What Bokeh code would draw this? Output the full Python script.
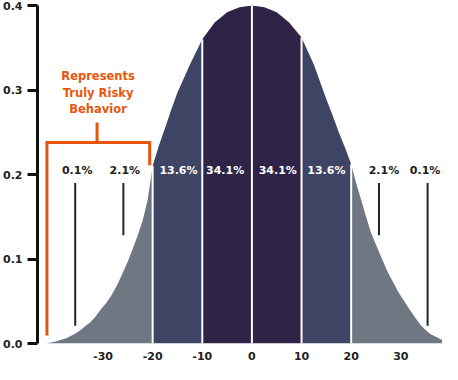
from bokeh.plotting import figure
from bokeh.models import Range1d, FixedTicker, PrintfTickFormatter
from bokeh.embed import file_html
from bokeh.resources import INLINE
from bokeh.core.properties import value

# ---- data ----
curve_x = [-41.5, -40.5, -39.5, -38.6, -37.5, -36.5, -35.5, -34.5, -33.5, -32.6, -31.5, -30.5, -29.2,
           -28.2, -27, -26, -25, -24, -23, -22, -21, -20, -18.75, -17.5, -16.25, -15, -12.5, -10,
           -7.5, -5, -2.5, 0, 2.5, 5, 7.5, 10, 12.5, 15, 16.25, 17.5, 18.75, 20, 21, 22, 23, 24,
           25, 26, 27.4, 28.4, 29.5, 30.8, 31.8, 33, 34, 35, 36, 37.4, 38.5, 40]
curve_y = [0.0, 0.0012, 0.0025, 0.004, 0.006, 0.009, 0.012, 0.016, 0.021, 0.025, 0.032, 0.04, 0.049,
           0.058, 0.071, 0.084, 0.097, 0.112, 0.128, 0.146, 0.17, 0.21, 0.234, 0.255, 0.277, 0.297, 0.33, 0.36,
           0.38, 0.392, 0.398, 0.4, 0.398, 0.392, 0.38, 0.362, 0.33, 0.289, 0.27, 0.25, 0.232,
           0.212, 0.19, 0.17, 0.15, 0.131, 0.117, 0.103, 0.084, 0.073, 0.061, 0.049, 0.04, 0.03, 0.022,
           0.016, 0.011, 0.007, 0.0035, 0.0]

band_edges = [-41.5, -20, -10, 0, 10, 20, 40]
band_colors = ["#6e7782", "#3e4464", "#2f2447", "#2f2447", "#3e4464", "#6e7782"]

pct_labels = ["0.1%", "2.1%", "13.6%", "34.1%", "34.1%", "13.6%", "2.1%", "0.1%"]
pct_x = [-35.2, -25.6, -14.8, -5.4, 5.2, 15.0, 26.6, 34.9]
pct_colors = ["#222222", "#222222", "white", "white", "white", "white", "#222222", "#222222"]
pct_y = 0.2047

pointer_x = [-35.6, -25.9, 25.6, 35.4]
pointer_top = [0.19, 0.19, 0.19, 0.19]
pointer_bottom = [0.021, 0.128, 0.128, 0.021]

x_ticks = [-30, -20, -10, 0, 10, 20, 30]
y_ticks = [0.0, 0.1, 0.2, 0.3, 0.4]

risk_lines = ["Represents", "Truly Risky", "Behavior"]
risk_x = -31.0
risk_y = [0.317, 0.297, 0.277]
bracket_x = [-41.3, -41.3, -20.6, -20.6]
bracket_y = [0.0095, 0.238, 0.238, 0.211]
bracket_mid_x = [-31.2, -31.2]
bracket_mid_y = [0.238, 0.2615]

ORANGE = "#e8560e"
FONT = value("DejaVu Sans")

p = figure(width=442, height=364, x_range=Range1d(-43.2, 38.4), y_range=Range1d(0, 0.4),
           output_backend="svg", toolbar_location=None,
           min_border_left=34, min_border_right=0, min_border_top=5, min_border_bottom=21)
p.outline_line_color = None
p.xgrid.visible = False
p.ygrid.visible = False
p.background_fill_color = "white"

# bands under the curve
for i in range(len(band_edges) - 1):
    a, b = band_edges[i], band_edges[i + 1]
    xs = [x for x in curve_x if a <= x <= b]
    ys = [y for x, y in zip(curve_x, curve_y) if a <= x <= b]
    p.varea(x=xs, y1=[0] * len(xs), y2=ys, fill_color=band_colors[i])

# white separators
sep_x = band_edges[1:-1]
sep_h = [curve_y[curve_x.index(e)] for e in sep_x]
p.segment(x0=sep_x, y0=[0] * len(sep_x), x1=sep_x, y1=sep_h, line_color="white", line_width=2)

# percentage labels
p.text(x=pct_x, y=[pct_y] * len(pct_x), text=pct_labels, text_color=pct_colors,
       text_font=FONT, text_font_style="bold", text_font_size="11px",
       text_align="center", text_baseline="middle")

# pointer lines
p.segment(x0=pointer_x, y0=pointer_bottom, x1=pointer_x, y1=pointer_top,
          line_color="#222222", line_width=2)

# orange bracket + annotation
p.line(bracket_x, bracket_y, line_color=ORANGE, line_width=3, line_join="miter")
p.line(bracket_mid_x, bracket_mid_y, line_color=ORANGE, line_width=3)
p.text(x=[risk_x] * 3, y=risk_y, text=risk_lines, text_color=ORANGE,
       text_font=FONT, text_font_style="bold", text_font_size="11.5px",
       text_align="center", text_baseline="middle")

# axes
xa = p.xaxis[0]
xa.ticker = FixedTicker(ticks=x_ticks)
xa.formatter = PrintfTickFormatter(format="%d")
xa.axis_line_color = None
xa.major_tick_line_color = None
xa.minor_tick_line_color = None
xa.major_tick_out = 0
xa.major_tick_in = 0
xa.major_label_standoff = 8
xa.major_label_text_font = "DejaVu Sans"
xa.major_label_text_font_style = "bold"
xa.major_label_text_font_size = "11px"
xa.major_label_text_color = "#222222"

ya = p.yaxis[0]
ya.ticker = FixedTicker(ticks=y_ticks)
ya.formatter = PrintfTickFormatter(format="%.1f")
ya.axis_line_color = "#111111"
ya.axis_line_width = 3
ya.major_tick_line_color = "#111111"
ya.major_tick_line_width = 3
ya.major_tick_out = 10
ya.major_tick_in = 0
ya.minor_tick_line_color = None
ya.major_label_standoff = 5
ya.major_label_text_font = "DejaVu Sans"
ya.major_label_text_font_style = "bold"
ya.major_label_text_font_size = "11px"
ya.major_label_text_color = "#222222"

open("out.html", "w").write(file_html(p, INLINE))
